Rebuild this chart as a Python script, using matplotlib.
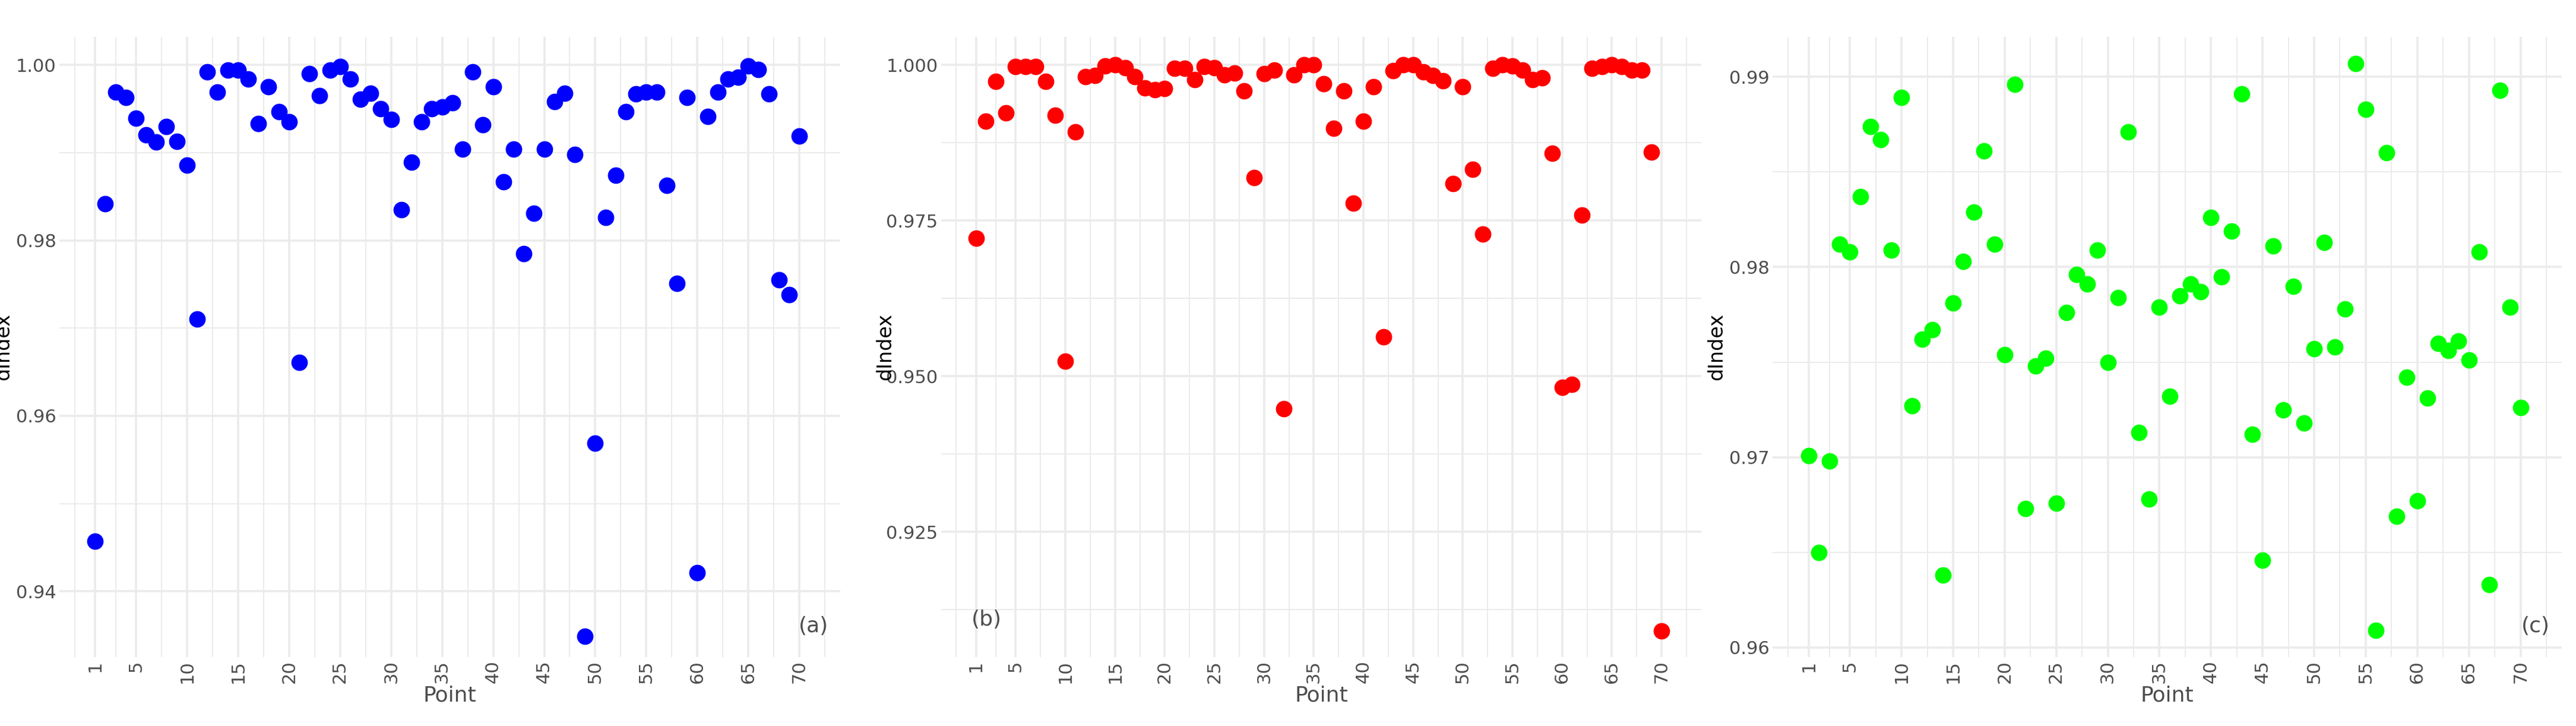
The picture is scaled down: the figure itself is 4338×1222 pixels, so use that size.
"""Three-panel dIndex scatter (ggplot minimal look)."""

import matplotlib
import numpy as np

matplotlib.use("Agg")
from matplotlib import pyplot as plt  # noqa: E402
from matplotlib.ticker import FixedLocator  # noqa: E402

points = np.arange(1, 71)
x_ticks = [1, 5, 10, 15, 20, 25, 30, 35, 40, 45, 50, 55, 60, 65, 70]

dindex_a = [
    0.9457, 0.9842, 0.9969, 0.9963, 0.9939, 0.9920, 0.9912, 0.9930, 0.9913, 0.9886,
    0.9710, 0.9992, 0.9969, 0.9994, 0.9994, 0.9984, 0.9933, 0.9975, 0.9947, 0.9935,
    0.9661, 0.9990, 0.9965, 0.9994, 0.9998, 0.9984, 0.9961, 0.9968, 0.9950, 0.9938,
    0.9835, 0.9889, 0.9935, 0.9950, 0.9952, 0.9957, 0.9904, 0.9992, 0.9932, 0.9975,
    0.9867, 0.9904, 0.9785, 0.9831, 0.9904, 0.9958, 0.9968, 0.9898, 0.9349, 0.9569,
    0.9826, 0.9874, 0.9947, 0.9967, 0.9969, 0.9969, 0.9863, 0.9751, 0.9963, 0.9421,
    0.9941, 0.9969, 0.9984, 0.9986, 0.9999, 0.9995, 0.9967, 0.9755, 0.9738, 0.9919,
]
dindex_b = [
    0.9722, 0.9910, 0.9973, 0.9923, 0.9997, 0.9997, 0.9997, 0.9973, 0.9919, 0.9524,
    0.9892, 0.9981, 0.9983, 0.9998, 1.0000, 0.9995, 0.9981, 0.9963, 0.9960, 0.9962,
    0.9994, 0.9994, 0.9976, 0.9997, 0.9995, 0.9984, 0.9987, 0.9958, 0.9819, 0.9986,
    0.9992, 0.9448, 0.9984, 1.0000, 1.0000, 0.9970, 0.9898, 0.9958, 0.9778, 0.9910,
    0.9965, 0.9563, 0.9991, 1.0000, 1.0000, 0.9989, 0.9983, 0.9974, 0.9809, 0.9965,
    0.9832, 0.9728, 0.9994, 1.0000, 0.9998, 0.9992, 0.9976, 0.9979, 0.9858, 0.9482,
    0.9487, 0.9759, 0.9994, 0.9997, 1.0000, 0.9997, 0.9992, 0.9992, 0.9860, 0.9091,
]
dindex_c = [
    0.9701, 0.9650, 0.9698, 0.9812, 0.9808, 0.9837, 0.9874, 0.9867, 0.9809, 0.9889,
    0.9727, 0.9762, 0.9767, 0.9638, 0.9781, 0.9803, 0.9829, 0.9861, 0.9812, 0.9754,
    0.9896, 0.9673, 0.9748, 0.9752, 0.9676, 0.9776, 0.9796, 0.9791, 0.9809, 0.9750,
    0.9784, 0.9871, 0.9713, 0.9678, 0.9779, 0.9732, 0.9785, 0.9791, 0.9787, 0.9826,
    0.9795, 0.9819, 0.9891, 0.9712, 0.9646, 0.9811, 0.9725, 0.9790, 0.9718, 0.9757,
    0.9813, 0.9758, 0.9778, 0.9907, 0.9883, 0.9609, 0.9860, 0.9669, 0.9742, 0.9677,
    0.9731, 0.9760, 0.9756, 0.9761, 0.9751, 0.9808, 0.9633, 0.9893, 0.9779, 0.9726,
]

panels = [
    {"values": dindex_a, "color": "#0000FF", "label": "(a)", "label_right": True,
     "yticks": [0.94, 0.96, 0.98, 1.00], "fmt": "{:.2f}", "ylim": (0.9325, 1.0032),
     "rect": (100, 1415)},
    {"values": dindex_b, "color": "#FF0000", "label": "(b)", "label_right": False,
     "yticks": [0.925, 0.950, 0.975, 1.000], "fmt": "{:.3f}", "ylim": (0.9049, 1.0045),
     "rect": (1585, 2865)},
    {"values": dindex_c, "color": "#00FF00", "label": "(c)", "label_right": True,
     "yticks": [0.96, 0.97, 0.98, 0.99], "fmt": "{:.2f}", "ylim": (0.9595, 0.9921),
     "rect": (2985, 4314)},
]

W, H = 4338, 1222
fig = plt.figure(figsize=(W / 100, H / 100), dpi=100)
grid_color = "#EBEBEB"

for panel in panels:
    left, right = panel["rect"]
    width = right - left
    ax = fig.add_axes([left / W, 116 / H, width / W, (1160 - 116) / H])
    ax.scatter(points, panel["values"], s=400, color=panel["color"], zorder=3, linewidths=0)
    ax.set_xlim(-2.5, 74.0)
    ax.set_ylim(*panel["ylim"])

    yt = panel["yticks"]
    step = yt[1] - yt[0]
    ax.yaxis.set_major_locator(FixedLocator(yt))
    ax.set_yticklabels([panel["fmt"].format(v) for v in yt])
    ax.yaxis.set_minor_locator(FixedLocator([v + step / 2 for v in [yt[0] - step] + yt]))
    ax.xaxis.set_major_locator(FixedLocator(x_ticks))
    ax.set_xticklabels([str(t) for t in x_ticks], rotation=90)
    ax.xaxis.set_minor_locator(FixedLocator([-1.0, 3.0, 7.5, 12.5, 17.5, 22.5, 27.5, 32.5,
                                             37.5, 42.5, 47.5, 52.5, 57.5, 62.5, 67.5, 72.5]))

    ax.grid(which="major", color=grid_color, linewidth=2.6)
    ax.grid(which="minor", color=grid_color, linewidth=1.4)
    ax.set_axisbelow(True)
    for spine in ax.spines.values():
        spine.set_visible(False)
    ax.tick_params(which="both", length=0, labelsize=22, labelcolor="#4D4D4D", pad=4)
    ax.set_xlabel("Point", fontsize=26, color="#4D4D4D", labelpad=2)
    ax.set_ylabel("dIndex", fontsize=24, color="black")
    # place the y title a fixed pixel distance left of the axes
    ax.yaxis.set_label_coords(-78 / width, 0.5)

    if panel["label_right"]:
        ax.text(0.985, 0.05, panel["label"], transform=ax.transAxes, ha="right",
                va="center", fontsize=26, color="#4D4D4D")
    else:
        ax.text(0.04, 0.06, panel["label"], transform=ax.transAxes, ha="left",
                va="center", fontsize=26, color="#4D4D4D")

fig.savefig("out.png", dpi=100)
plt.close(fig)
